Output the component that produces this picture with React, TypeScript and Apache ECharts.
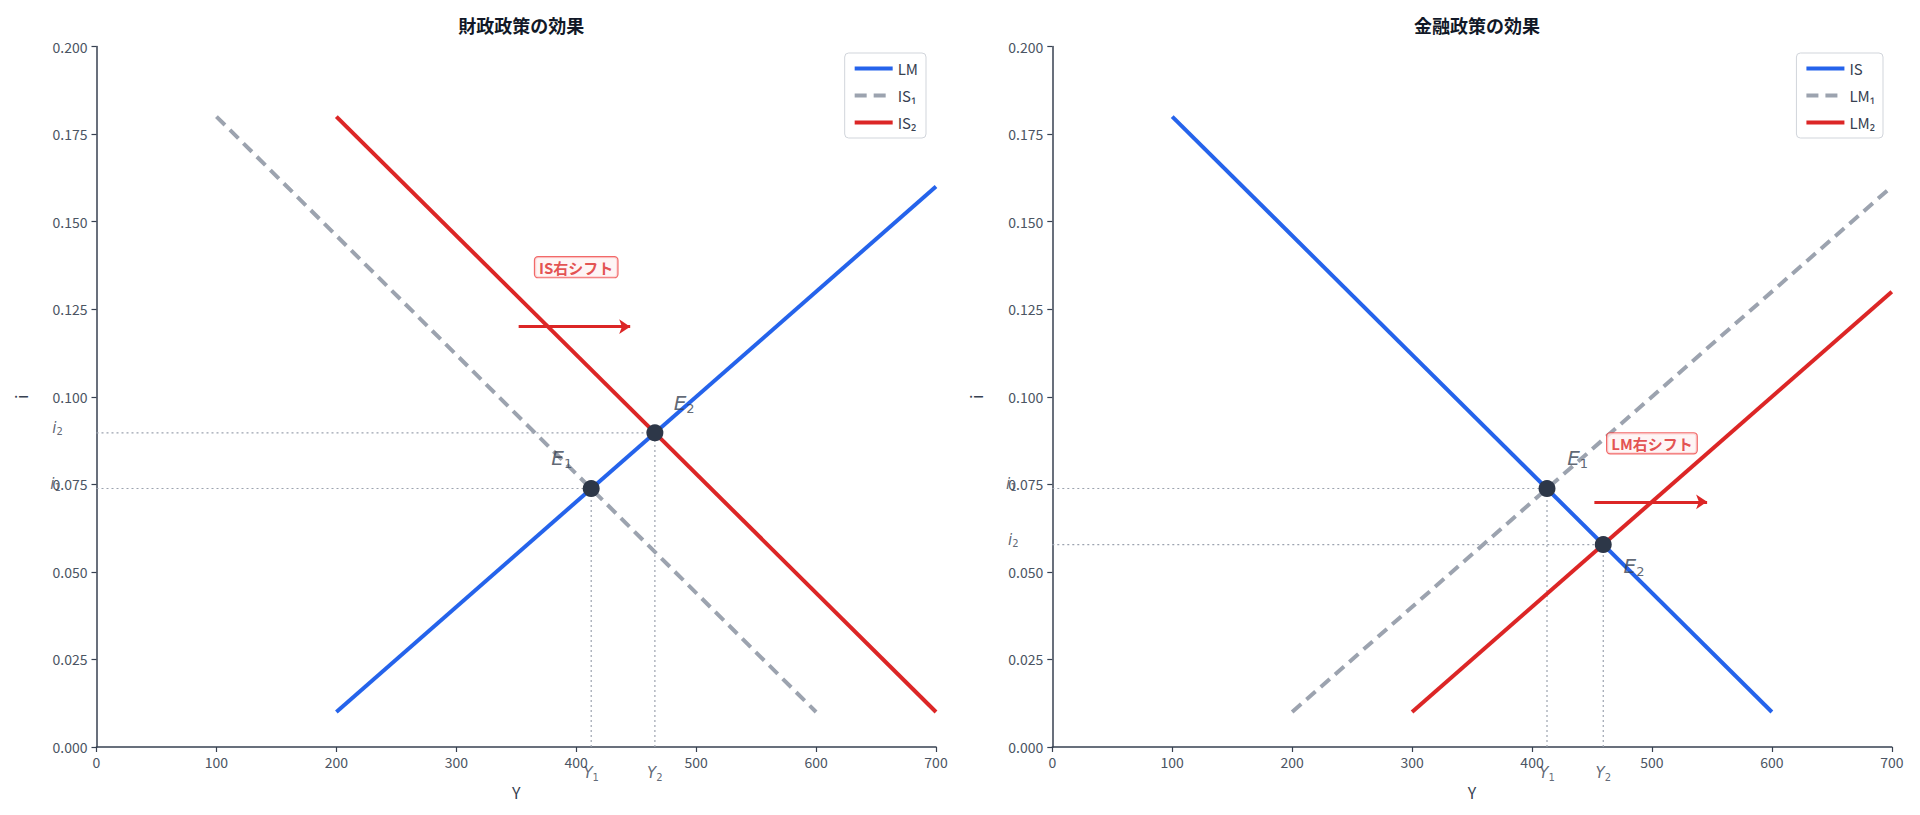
import React, { useEffect, useRef } from "react";
import * as echarts from "echarts";

// ---- data ----
const X_MIN = 0;
const X_MAX = 700;
const X_STEP = 100;
const Y_MIN = 0;
const Y_MAX = 0.2;
const Y_STEP = 0.025;

const TITLES = ["財政政策の効果", "金融政策の効果"];

// fiscal policy panel
const FISCAL_LM = [[200, 0.01], [700, 0.16]];
const FISCAL_IS1 = [[100, 0.18], [600, 0.01]];
const FISCAL_IS2 = [[200, 0.18], [700, 0.01]];
const FISCAL_E = [[412.5, 0.0738], [465.6, 0.0897]];
const FISCAL_E_LABEL_POS = [[388, 0.0825], [490, 0.0982]];
const FISCAL_SHIFT_TEXT = "IS右シフト";
const FISCAL_SHIFT_LABEL = [400, 0.137];
const FISCAL_ARROW = [[352, 0.12], [445, 0.12]];

// monetary policy panel
const MONETARY_IS = [[100, 0.18], [600, 0.01]];
const MONETARY_LM1 = [[200, 0.01], [700, 0.16]];
const MONETARY_LM2 = [[300, 0.01], [700, 0.13]];
const MONETARY_E = [[412.5, 0.0738], [459.4, 0.0578]];
const MONETARY_E_LABEL_POS = [[438, 0.0825], [485, 0.0517]];
const MONETARY_SHIFT_TEXT = "LM右シフト";
const MONETARY_SHIFT_LABEL = [500, 0.0867];
const MONETARY_ARROW = [[452, 0.07], [546, 0.07]];

const BLUE = "#2563eb";
const RED = "#dc2626";
const GRAY = "#9ca3af";
const DARK = "#2d3748";
const TICK = "#4b5563";
const AXIS = "#374151";
const FONT = "'Noto Sans CJK JP', 'Noto Sans', sans-serif";
const MATH = "'DejaVu Sans', sans-serif";

const GRIDS = [
  { left: 96.5, top: 46.5, width: 839.5, height: 700.5 },
  { left: 1052.3, top: 46.5, width: 839.5, height: 700.5 },
];

function App() {
  const ref = useRef<HTMLDivElement>(null);

  useEffect(() => {
    if (!ref.current) return;
    const chart = echarts.init(ref.current, undefined, { renderer: "svg" });

    const mathRich = {
      m: { fontFamily: MATH, fontStyle: "italic", fontSize: 20, color: AXIS },
      s: { fontFamily: MATH, fontSize: 13, color: AXIS, padding: [11, 0, 0, 0] },
      mi: { fontFamily: MATH, fontStyle: "italic", fontSize: 15, color: AXIS },
      si: { fontFamily: MATH, fontSize: 10, color: AXIS, padding: [8, 0, 0, 0] },
    };

    const curve = (name: string, data: number[][], color: string, idx: number, dashed = false) => ({
      type: "line",
      name,
      data,
      xAxisIndex: idx,
      yAxisIndex: idx,
      symbol: "none",
      z: 3,
      lineStyle: { color, width: 4, type: dashed ? [12, 7] : "solid" },
      itemStyle: { color },
    });

    const refLines = (pts: number[][], idx: number) =>
      pts.flatMap((p) => [
        {
          type: "line",
          data: [[X_MIN, p[1]], [p[0], p[1]]],
          xAxisIndex: idx,
          yAxisIndex: idx,
          symbol: "none",
          silent: true,
          z: 1,
          lineStyle: { color: GRAY, width: 1.2, type: [2, 3] },
        },
        {
          type: "line",
          data: [[p[0], Y_MIN], [p[0], p[1]]],
          xAxisIndex: idx,
          yAxisIndex: idx,
          symbol: "none",
          silent: true,
          z: 1,
          lineStyle: { color: GRAY, width: 1.2, type: [2, 3] },
        },
      ]);

    const points = (pts: number[][], idx: number) => ({
      type: "scatter",
      data: pts,
      xAxisIndex: idx,
      yAxisIndex: idx,
      symbolSize: 17,
      z: 5,
      silent: true,
      itemStyle: { color: DARK, opacity: 1 },
    });

    const textSeries = (items: any[], idx: number) => ({
      type: "scatter",
      data: items,
      xAxisIndex: idx,
      yAxisIndex: idx,
      symbolSize: 1,
      silent: true,
      z: 6,
      clip: false,
      itemStyle: { color: "rgba(0,0,0,0)" },
    });

    const eLabels = (pos: number[][], idx: number) =>
      textSeries(
        pos.map((p, k) => ({
          value: p,
          label: {
            show: true,
            position: "inside",
            formatter: `{m|E}{s|${k + 1}}`,
            rich: mathRich,
          },
        })),
        idx
      );

    const axisLabels = (pts: number[][], idx: number, iOffsets: number[][]) =>
      textSeries(
        [
          ...pts.map((p, k) => ({
            value: [p[0], Y_MIN],
            label: {
              show: true,
              position: "inside",
              offset: [0, 26],
              formatter: `{mi|Y}{si|${k + 1}}`,
              rich: mathRich,
            },
          })),
          ...pts.map((p, k) => ({
            value: [X_MIN, p[1]],
            label: {
              show: true,
              position: "inside",
              offset: iOffsets[k],
              formatter: `{mi|i}{si|${k + 1}}`,
              rich: mathRich,
            },
          })),
        ],
        idx
      );

    const shiftLabel = (text: string, pos: number[], idx: number) =>
      textSeries(
        [
          {
            value: pos,
            label: {
              show: true,
              position: "inside",
              formatter: text,
              color: RED,
              fontFamily: FONT,
              fontWeight: "bold",
              fontSize: 15,
              backgroundColor: "#fef2f2",
              borderColor: "#ef4444",
              borderWidth: 1.2,
              borderRadius: 3,
              padding: [3, 4, 2, 4],
            },
          },
        ],
        idx
      );

    const arrow = (coords: number[][], idx: number) => ({
      type: "lines",
      coordinateSystem: "cartesian2d",
      xAxisIndex: idx,
      yAxisIndex: idx,
      silent: true,
      z: 4,
      symbol: ["none", "arrow"],
      symbolSize: [0, 11],
      lineStyle: { color: RED, width: 3, opacity: 1, curveness: 0 },
      data: [{ coords }],
    });

    const xAxis = (idx: number) => ({
      type: "value",
      gridIndex: idx,
      min: X_MIN,
      max: X_MAX,
      interval: X_STEP,
      name: "Y",
      nameLocation: "middle",
      nameGap: 37,
      nameTextStyle: { color: AXIS, fontFamily: FONT, fontSize: 16 },
      axisLine: { show: true, lineStyle: { color: AXIS, width: 1.5 } },
      axisTick: { show: true, length: 5, lineStyle: { color: AXIS, width: 1.2 } },
      axisLabel: { color: TICK, fontFamily: FONT, fontSize: 14, margin: 8 },
      splitLine: { show: false },
    });

    const yAxis = (idx: number) => ({
      type: "value",
      gridIndex: idx,
      min: Y_MIN,
      max: Y_MAX,
      interval: Y_STEP,
      name: "i",
      nameLocation: "middle",
      nameGap: 68,
      nameRotate: 90,
      nameTextStyle: { color: AXIS, fontFamily: FONT, fontSize: 16 },
      axisLine: { show: true, lineStyle: { color: AXIS, width: 1.5 } },
      axisTick: { show: true, length: 5, lineStyle: { color: AXIS, width: 1.2 } },
      axisLabel: {
        color: TICK,
        fontFamily: FONT,
        fontSize: 14,
        margin: 9,
        formatter: (v: number) => v.toFixed(3),
      },
      splitLine: { show: false },
    });

    const legend = (names: string[], right: number) => ({
      data: names,
      orient: "vertical",
      right,
      top: 53,
      itemWidth: 38,
      itemHeight: 14,
      itemGap: 12,
      padding: [8, 8, 8, 8],
      borderColor: "#d1d5db",
      borderWidth: 1,
      borderRadius: 4,
      backgroundColor: "#ffffff",
      itemStyle: { opacity: 0 },
      lineStyle: { width: 4 },
      textStyle: { color: AXIS, fontFamily: FONT, fontSize: 15 },
    });

    const option: any = {
      animation: false,
      backgroundColor: "#ffffff",
      title: TITLES.map((t, k) => ({
        text: t,
        left: GRIDS[k].left + GRIDS[k].width / 2,
        top: 11,
        textAlign: "center",
        textStyle: { fontFamily: FONT, fontSize: 18, fontWeight: "bold", color: "#111827" },
      })),
      grid: GRIDS.map((g) => ({ ...g, containLabel: false })),
      xAxis: [xAxis(0), xAxis(1)],
      yAxis: [yAxis(0), yAxis(1)],
      legend: [legend(["LM", "IS₁", "IS₂"], 994), legend(["IS", "LM₁", "LM₂"], 37)],
      series: [
        ...refLines(FISCAL_E, 0),
        curve("LM", FISCAL_LM, BLUE, 0),
        curve("IS₁", FISCAL_IS1, GRAY, 0, true),
        curve("IS₂", FISCAL_IS2, RED, 0),
        points(FISCAL_E, 0),
        eLabels(FISCAL_E_LABEL_POS, 0),
        axisLabels(FISCAL_E, 0, [[-41, -5], [-39, -5]]),
        shiftLabel(FISCAL_SHIFT_TEXT, FISCAL_SHIFT_LABEL, 0),
        arrow(FISCAL_ARROW, 0),

        ...refLines(MONETARY_E, 1),
        curve("IS", MONETARY_IS, BLUE, 1),
        curve("LM₁", MONETARY_LM1, GRAY, 1, true),
        curve("LM₂", MONETARY_LM2, RED, 1),
        points(MONETARY_E, 1),
        eLabels(MONETARY_E_LABEL_POS, 1),
        axisLabels(MONETARY_E, 1, [[-41, -5], [-39, -5]]),
        shiftLabel(MONETARY_SHIFT_TEXT, MONETARY_SHIFT_LABEL, 1),
        arrow(MONETARY_ARROW, 1),
      ],
    };

    chart.setOption(option);
    return () => chart.dispose();
  }, []);

  return (
    <div
      ref={ref}
      style={{ position: "fixed", left: 0, top: 0, width: 1920, height: 815, background: "#fff" }}
    />
  );
}

export default App;
